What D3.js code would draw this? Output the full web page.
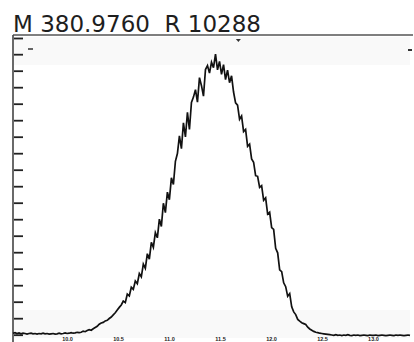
<!DOCTYPE html>
<html><head><meta charset="utf-8">
<script src="https://cdn.jsdelivr.net/npm/d3@7/dist/d3.min.js"></script>
<style>html,body{margin:0;padding:0;background:#fff;overflow:hidden}</style>
</head><body><svg id="c" width="414" height="342"></svg>
<script>
const titleText = "M 380.9760  R 10288";
// relative intensity (%) of evenly spaced scans across the time window
const intensity = [
1.6,1.8,1.5,1.7,1.4,1.6,1.5,1.3,1.5,1.6,1.4,1.5,1.3,1.5,1.4,1.6,1.4,1.5,1.3,1.4,
1.5,1.3,1.4,1.6,1.4,1.5,1.7,1.5,1.6,1.8,1.6,1.7,1.9,1.8,1.9,2.3,2.1,2.5,2.8,2.6,
3.1,3.5,3.9,4.6,5.0,5.2,5.7,5.9,6.5,7.0,7.7,8.4,9.3,10.2,11.0,
12.3,11.8,14.6,14.0,16.9,16.2,19.0,18.1,21.5,20.4,24.6,23.2,28.1,26.3,31.9,30.2,35.1,33.4,39.6,37.2,
44.9,41.8,48.6,46.1,53.4,51.2,58.9,61.5,
67.4,63.1,71.7,67.0,75.2,69.5,78.5,80.3,82.8,78.6,86.8,84.1,80.6,89.5,90.8,88.3,91.9,
90.1,94.6,89.4,92.2,87.9,91.1,86.1,89.3,85.1,87.4,
82.0,78.4,77.6,72.9,74.0,68.8,69.5,63.9,64.6,59.7,58.6,54.1,53.9,50.2,50.8,45.9,46.7,41.3,41.9,36.8,
36.2,29.9,28.4,22.7,22.1,18.4,17.1,13.9,
14.8,10.4,8.7,7.8,6.2,5.6,5.1,4.8,4.5,3.6,3.0,2.6,2.2,1.9,1.8,1.6,1.5,1.4,1.3,1.2,1.1,1.0,
0.9,1.1,0.9,1.0,0.8,1.0,0.9,1.1,0.9,0.8,1.0,0.9,1.0,0.8,0.9,1.0,0.9,0.8,1.0,0.9,
0.9,1.0,0.8,0.9,1.0,0.9,0.8,0.9,1.0,0.9,0.8,1.0,0.9,1.0,0.9,0.8,0.9,1.0,0.9
];
const timeRange = [9.47, 13.363];
const xTickValues = [10.0, 10.5, 11.0, 11.5, 12.0, 12.5, 13.0];
const xTickLabels = ["10.0", "10.5", "11.0", "11.5", "12.0", "12.5", "13.0"];
const yTickValues = [1.1, 6.6, 12.1, 17.6, 23.1, 28.6, 34.1, 39.6, 45.1, 50.6, 56.1, 61.6, 67.1, 72.6, 78.1, 83.6, 89.1, 94.6, 100];

const svg = d3.select("#c");
const W = 414, H = 342;
const m = {left: 13, right: 4, top: 38, bottom: 4};
const x = d3.scaleLinear().domain(timeRange).range([m.left, W - m.right]);
const y = d3.scaleLinear().domain([0, 100]).range([H - m.bottom, m.top]);

const times = intensity.map((_, i) => timeRange[0] + i * (timeRange[1] - timeRange[0]) / (intensity.length - 1));
const pts = intensity.map((v, i) => [times[i], v]);

// faint scan bands
svg.append("rect").attr("x", x(timeRange[0])).attr("y", 37).attr("width", x(timeRange[1]) - x(timeRange[0])).attr("height", 28).attr("fill", "#f9f9f9");
svg.append("rect").attr("x", x(timeRange[0])).attr("y", 310).attr("width", x(timeRange[1]) - x(timeRange[0])).attr("height", 28).attr("fill", "#f9f9f9");

// title
svg.append("text").attr("x", 13).attr("y", 31.5)
  .style("white-space", "pre")
  .attr("font-family", "DejaVu Sans, Arial, sans-serif").attr("font-size", 23)
  .attr("fill", "#1e1e1e").text(titleText);

// top frame line
svg.append("line").attr("x1", 13).attr("x2", 413).attr("y1", 35).attr("y2", 35)
  .attr("stroke", "#555").attr("stroke-width", 1.6);

// left axis
const yAxis = d3.axisRight(y).tickValues(yTickValues).tickSize(9).tickFormat("");
const gy = svg.append("g").attr("transform", `translate(${m.left + 1},0)`).call(yAxis);
gy.select(".domain").remove();
gy.selectAll(".tick line").attr("stroke", "#222").attr("stroke-width", 1.8);
svg.append("line").attr("x1", 13).attr("x2", 13).attr("y1", 35).attr("y2", 342)
  .attr("stroke", "#444").attr("stroke-width", 1.6);

// bottom axis labels (tiny, at the page edge)
const xAxis = d3.axisBottom(x).tickValues(xTickValues).tickSize(0)
  .tickFormat((d, i) => xTickLabels[i]);
const gx = svg.append("g").attr("transform", `translate(0,${H - m.bottom})`).call(xAxis);
gx.select(".domain").remove();
gx.selectAll(".tick text").attr("y", 0).attr("dy", "3.4px")
  .attr("font-family", "Arial, sans-serif").attr("font-weight", "bold")
  .attr("font-size", 5.5).attr("fill", "#222");

// small markers
svg.append("path").attr("d", `M${x(11.68)-2.5},39 L${x(11.68)+2.5},39 L${x(11.68)},42 Z`).attr("fill", "#333");
svg.append("line").attr("x1", 28).attr("x2", 33).attr("y1", 49).attr("y2", 49).attr("stroke", "#333").attr("stroke-width", 1.5);
svg.append("line").attr("x1", 408).attr("x2", 412).attr("y1", 50).attr("y2", 50).attr("stroke", "#333").attr("stroke-width", 2);

// trace
const line = d3.line().x(d => x(d[0])).y(d => y(d[1]));
svg.append("path").datum(pts).attr("d", line)
  .attr("fill", "none").attr("stroke", "#111").attr("stroke-width", 1.7)
  .attr("stroke-linejoin", "miter");
</script></body></html>
